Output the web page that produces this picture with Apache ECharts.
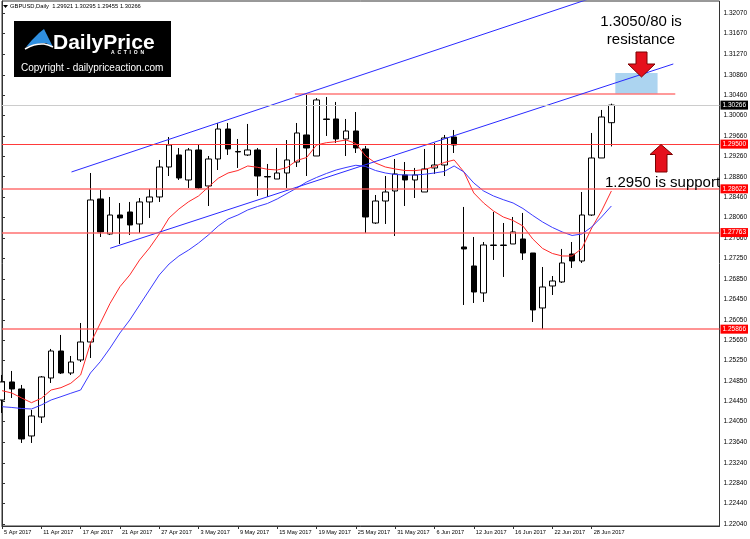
<!DOCTYPE html>
<html>
<head>
<meta charset="utf-8">
<title>GBPUSD Daily</title>
<script src="https://cdn.jsdelivr.net/npm/echarts/dist/echarts.min.js"></script>
<style>
  html, body { margin: 0; padding: 0; background: #fff; }
  #main { width: 750px; height: 539px; }
</style>
</head>
<body>
<div id="main"></div>
<script>
// 日期 (交易日)
var dates = [
  '5 Apr 2017', '6 Apr 2017', '7 Apr 2017', '10 Apr 2017', '11 Apr 2017', '12 Apr 2017', '13 Apr 2017', '14 Apr 2017',
  '17 Apr 2017', '18 Apr 2017', '19 Apr 2017', '20 Apr 2017', '21 Apr 2017', '24 Apr 2017', '25 Apr 2017', '26 Apr 2017',
  '27 Apr 2017', '28 Apr 2017', '1 May 2017', '2 May 2017', '3 May 2017', '4 May 2017', '5 May 2017', '8 May 2017',
  '9 May 2017', '10 May 2017', '11 May 2017', '12 May 2017', '15 May 2017', '16 May 2017', '17 May 2017', '18 May 2017',
  '19 May 2017', '22 May 2017', '23 May 2017', '24 May 2017', '25 May 2017', '26 May 2017', '29 May 2017', '30 May 2017',
  '31 May 2017', '1 Jun 2017', '2 Jun 2017', '5 Jun 2017', '6 Jun 2017', '7 Jun 2017', '8 Jun 2017', '9 Jun 2017',
  '12 Jun 2017', '13 Jun 2017', '14 Jun 2017', '15 Jun 2017', '16 Jun 2017', '19 Jun 2017', '20 Jun 2017', '21 Jun 2017',
  '22 Jun 2017', '23 Jun 2017', '26 Jun 2017', '27 Jun 2017', '28 Jun 2017', '29 Jun 2017', '30 Jun 2017'
];
var futureSlots = 11;

// K线 [open, close, low, high]
var candles = [
  [1.24475, 1.24829, 1.24220, 1.24966], [1.24829, 1.24691, 1.24514, 1.25045], [1.24691, 1.23709, 1.23631, 1.24770],
  [1.23768, 1.24161, 1.23631, 1.24279], [1.24141, 1.24927, 1.24023, 1.24946], [1.24907, 1.25437, 1.24809, 1.25477],
  [1.25437, 1.25005, 1.24985, 1.25752], [1.25005, 1.25221, 1.24966, 1.25339], [1.25261, 1.25614, 1.25221, 1.25987],
  [1.25614, 1.28403, 1.25300, 1.28933], [1.28423, 1.27775, 1.27676, 1.28599], [1.27735, 1.28108, 1.27716, 1.28462],
  [1.28108, 1.28050, 1.27539, 1.28344], [1.28167, 1.27912, 1.27716, 1.28364], [1.27932, 1.28364, 1.27755, 1.28442],
  [1.28364, 1.28462, 1.28050, 1.28619], [1.28462, 1.29051, 1.28364, 1.29189], [1.29051, 1.29483, 1.28874, 1.29640],
  [1.29287, 1.28835, 1.28796, 1.29424], [1.28796, 1.29385, 1.28639, 1.29424], [1.29385, 1.28639, 1.28619, 1.29483],
  [1.28678, 1.29208, 1.28285, 1.29267], [1.29208, 1.29797, 1.28992, 1.29915], [1.29797, 1.29405, 1.29287, 1.29915],
  [1.29346, 1.29356, 1.29032, 1.29601], [1.29287, 1.29385, 1.29267, 1.29896], [1.29385, 1.28874, 1.28482, 1.29424],
  [1.28864, 1.28855, 1.28462, 1.29110], [1.28815, 1.28933, 1.28815, 1.29424], [1.28933, 1.29189, 1.28639, 1.29581],
  [1.29149, 1.29719, 1.29051, 1.29915], [1.29680, 1.29424, 1.28874, 1.30465], [1.29267, 1.30367, 1.29267, 1.30406],
  [1.29994, 1.29984, 1.29660, 1.30426], [1.29994, 1.29601, 1.29523, 1.30328], [1.29601, 1.29758, 1.29267, 1.29994],
  [1.29758, 1.29424, 1.29326, 1.30131], [1.29405, 1.28069, 1.27755, 1.29464], [1.27951, 1.28383, 1.27932, 1.28501],
  [1.28383, 1.28560, 1.27932, 1.28874], [1.28580, 1.28914, 1.27696, 1.29208], [1.28894, 1.28796, 1.28285, 1.29149],
  [1.28796, 1.28894, 1.28442, 1.29032], [1.28560, 1.29012, 1.28560, 1.29405], [1.29032, 1.29090, 1.28914, 1.29523],
  [1.29090, 1.29621, 1.28874, 1.29680], [1.29640, 1.29483, 1.29326, 1.29778], [1.27480, 1.27441, 1.26341, 1.28266],
  [1.27107, 1.26596, 1.26380, 1.27676], [1.26577, 1.27519, 1.26400, 1.27578], [1.27509, 1.27519, 1.27225, 1.28167],
  [1.27509, 1.27519, 1.26891, 1.27951], [1.27539, 1.27775, 1.27539, 1.28069], [1.27637, 1.27362, 1.27225, 1.28148],
  [1.27362, 1.26243, 1.26007, 1.27362], [1.26282, 1.26694, 1.25866, 1.27087], [1.26714, 1.26812, 1.26537, 1.26910],
  [1.26793, 1.27166, 1.26773, 1.27441], [1.27342, 1.27205, 1.27068, 1.27578], [1.27205, 1.28108, 1.27166, 1.28560],
  [1.28108, 1.29228, 1.28089, 1.29719], [1.29228, 1.30033, 1.29228, 1.30171], [1.29921, 1.30266, 1.29455, 1.30295]
];

// 均线 (红 快线, 蓝 慢线)
var maFast = [
  1.24658, 1.24612, 1.24514, 1.24422, 1.24508, 1.24671, 1.24717, 1.24803, 1.24966, 1.25589,
  1.25981, 1.26374, 1.26700, 1.26930, 1.27225, 1.27460, 1.27735, 1.28050, 1.28226, 1.28370,
  1.28482, 1.28658, 1.28829, 1.28933, 1.28982, 1.29071, 1.29045, 1.29006, 1.28992, 1.29041,
  1.29179, 1.29238, 1.29483, 1.29528, 1.29548, 1.29581, 1.29513, 1.29267, 1.29130, 1.29051,
  1.29012, 1.28982, 1.28979, 1.29002, 1.29061, 1.29140, 1.29189, 1.28953, 1.28541, 1.28344,
  1.28187, 1.28069, 1.28000, 1.27892, 1.27637, 1.27451, 1.27352, 1.27303, 1.27303, 1.27451,
  1.27853, 1.28187, 1.28580
];
var maSlow = [
  1.24343, 1.24328, 1.24308, 1.24298, 1.24377, 1.24475, 1.24540, 1.24607, 1.24671, 1.25005,
  1.25227, 1.25496, 1.25791, 1.26046, 1.26341, 1.26635, 1.26930, 1.27146, 1.27303, 1.27421,
  1.27558, 1.27716, 1.27892, 1.28030, 1.28108, 1.28207, 1.28275, 1.28334, 1.28423, 1.28531,
  1.28639, 1.28757, 1.28845, 1.28923, 1.28992, 1.29041, 1.29085, 1.29061, 1.28982, 1.28933,
  1.28904, 1.28894, 1.28894, 1.28908, 1.28933, 1.28963, 1.29071, 1.28953, 1.28737, 1.28580,
  1.28482, 1.28409, 1.28344, 1.28236, 1.28099, 1.27971, 1.27863, 1.27775, 1.27706, 1.27735,
  1.27873, 1.28069, 1.28285
];

// 水平位 / 趋势线 / 阻力区 ([bar index, price])
var supportLevels = [1.29500, 1.28622, 1.27763, 1.25866];
var resistanceLine = [[29.8, 1.30485], [68.5, 1.30485]];
var resistanceZone = [[62.4, 1.30897], [66.7, 1.30485]];
var upperTrend = [[7.07, 1.28953], [62.4, 1.32525]];
var lowerTrend = [[11.0, 1.27454], [68.3, 1.31074]];

var yTickLabels = [
  '1.22040', '1.22440', '1.22840', '1.23240', '1.23640', '1.24050', '1.24450', '1.24850', '1.25250',
  '1.25650', '1.26050', '1.26450', '1.26850', '1.27250', '1.27660', '1.28060', '1.28460', '1.28860',
  '1.29260', '1.29660', '1.30060', '1.30460', '1.30860', '1.31270', '1.31670', '1.32070'
];

var myChart = echarts.init(document.getElementById('main'));

var xData = dates.slice();
for (var k = 1; k <= futureSlots; k++) xData.push('f' + k);
var yTickValues = yTickLabels.map(Number);
var last = candles[candles.length - 1];
var lastPrice = last[1];

function showDate(i) { return i % 4 === 0 && i < dates.length; }
function fmt(v) { return Number(v).toFixed(5); }

var levelLines = supportLevels.map(function (v, i) {
  return {
    yAxis: v,
    lineStyle: i === 0
      ? { color: '#ff3a3a', width: 1.2, type: 'solid' }
      : { color: 'rgba(255,90,90,0.65)', width: 2, type: 'solid' },
    label: { backgroundColor: '#ff0000' }
  };
});
levelLines.push({
  yAxis: lastPrice,
  lineStyle: { color: '#cccccc', width: 1, type: 'solid' },
  label: { backgroundColor: '#000' }
});

var header = 'GBPUSD,Daily  ' + fmt(last[0]) + ' ' + fmt(last[3]) + ' ' + fmt(last[2]) + ' ' + fmt(last[1]);

var option = {
  animation: false,
  backgroundColor: '#fff',
  textStyle: { fontFamily: 'Liberation Sans, Arial, sans-serif' },
  grid: { left: 2, right: 27, top: 1, bottom: 13, show: true, borderColor: '#333', borderWidth: 1 },
  xAxis: [{
    type: 'category',
    data: xData,
    boundaryGap: false,
    axisLine: { lineStyle: { color: '#333' } },
    axisTick: { length: 3, interval: showDate, lineStyle: { color: '#333' } },
    axisLabel: {
      interval: showDate, align: 'left', margin: 3, fontSize: 5.6, color: '#000',
      padding: [0, 0, 0, 2],
      formatter: function (v) { return v.charAt(0) === 'f' ? '' : v; }
    },
    splitLine: { show: false }
  }, {
    type: 'value', min: 0, max: xData.length - 1, show: false
  }],
  yAxis: {
    type: 'value',
    position: 'right',
    min: 1.22000,
    max: 1.32311,
    axisLine: { show: true, lineStyle: { color: '#333' } },
    axisTick: { show: true, length: 3, customValues: yTickValues, lineStyle: { color: '#333' } },
    axisLabel: { customValues: yTickValues, formatter: fmt, fontSize: 6.5, margin: 4, color: '#000' },
    splitLine: { show: false }
  },
  series: [
    {
      name: 'zone',
      type: 'line',
      xAxisIndex: 1,
      data: resistanceLine,
      symbol: 'none',
      z: 1,
      lineStyle: { color: 'rgba(255,120,120,0.75)', width: 2 },
      markArea: {
        silent: true,
        itemStyle: { color: '#acd4f0' },
        data: [[{ coord: resistanceZone[0] }, { coord: resistanceZone[1] }]]
      }
    },
    {
      name: 'GBPUSD',
      type: 'candlestick',
      data: candles,
      barWidth: 6,
      z: 3,
      itemStyle: { color: '#fff', color0: '#000', borderColor: '#000', borderColor0: '#000', borderWidth: 1 },
      markLine: {
        silent: true,
        precision: 5,
        symbol: ['none', 'none'],
        label: {
          show: true, position: 'end', distance: 1, color: '#fff', fontSize: 6.5,
          padding: [1, 2, 1, 2],
          formatter: function (p) { return fmt(p.value); }
        },
        data: levelLines
      }
    },
    {
      name: 'MA fast', type: 'line', data: maFast, symbol: 'none', z: 4,
      lineStyle: { color: '#ff2a2a', width: 1 }
    },
    {
      name: 'MA slow', type: 'line', data: maSlow, symbol: 'none', z: 4,
      lineStyle: { color: '#3a3aff', width: 1 }
    },
    {
      name: 'upper', type: 'line', xAxisIndex: 1, data: upperTrend, symbol: 'none', z: 4,
      lineStyle: { color: '#2a2aff', width: 1 }
    },
    {
      name: 'lower', type: 'line', xAxisIndex: 1, data: lowerTrend, symbol: 'none', z: 4,
      lineStyle: { color: '#2a2aff', width: 1 }
    }
  ],
  graphic: [
    // 标题
    { type: 'polygon', shape: { points: [[3, 5], [8, 5], [5.5, 8]] }, style: { fill: '#000' }, z: 10 },
    { type: 'text', x: 10, y: 6.5, style: { text: header, fontSize: 5.8, fill: '#000', verticalAlign: 'middle' }, z: 10 },
    // logo
    { type: 'rect', shape: { x: 14, y: 21, width: 157, height: 56 }, style: { fill: '#000' }, z: 10 },
    { type: 'polygon', shape: { points: [[26, 47], [32, 40], [39, 33], [44, 29], [47, 35], [50, 41], [53, 47], [46, 43], [36, 44]] }, style: { fill: '#2f8fe0' }, z: 11 },
    { type: 'polyline', shape: { points: [[25, 49], [34, 45], [44, 44], [53, 47]], smooth: 0.4 }, style: { stroke: '#fff', lineWidth: 1.5, fill: null }, z: 11 },
    { type: 'text', x: 53, y: 43, style: { text: 'DailyPrice', fontSize: 21, fontWeight: 'bold', fill: '#fff', verticalAlign: 'middle' }, z: 11 },
    { type: 'text', x: 111, y: 53, style: { text: 'A  C  T  I  O  N', fontSize: 5, fontWeight: 'bold', fill: '#fff', verticalAlign: 'middle' }, z: 11 },
    { type: 'text', x: 21, y: 68, style: { text: 'Copyright - dailypriceaction.com', fontSize: 10, fill: '#fff', verticalAlign: 'middle' }, z: 11 },
    // 标注
    { type: 'text', x: 641, y: 22, style: { text: '1.3050/80 is', fontSize: 15, fill: '#000', align: 'center', verticalAlign: 'middle' }, z: 10 },
    { type: 'text', x: 641, y: 40, style: { text: 'resistance', fontSize: 15, fill: '#000', align: 'center', verticalAlign: 'middle' }, z: 10 },
    { type: 'text', x: 605, y: 183, style: { text: '1.2950 is support', fontSize: 15, fill: '#000', verticalAlign: 'middle' }, z: 10 },
    { type: 'polygon', shape: { points: [[636, 52], [647, 52], [647, 64], [655, 64], [641.5, 77], [628, 64], [636, 64]] }, style: { fill: '#e5101c', stroke: '#7a0000', lineWidth: 1 }, z: 10 },
    { type: 'polygon', shape: { points: [[661, 144.5], [672.5, 154.5], [667, 154.5], [667, 172], [655.5, 172], [655.5, 154.5], [650, 154.5]] }, style: { fill: '#e5101c', stroke: '#7a0000', lineWidth: 1 }, z: 10 }
  ]
};

myChart.setOption(option);
</script>
</body>
</html>
